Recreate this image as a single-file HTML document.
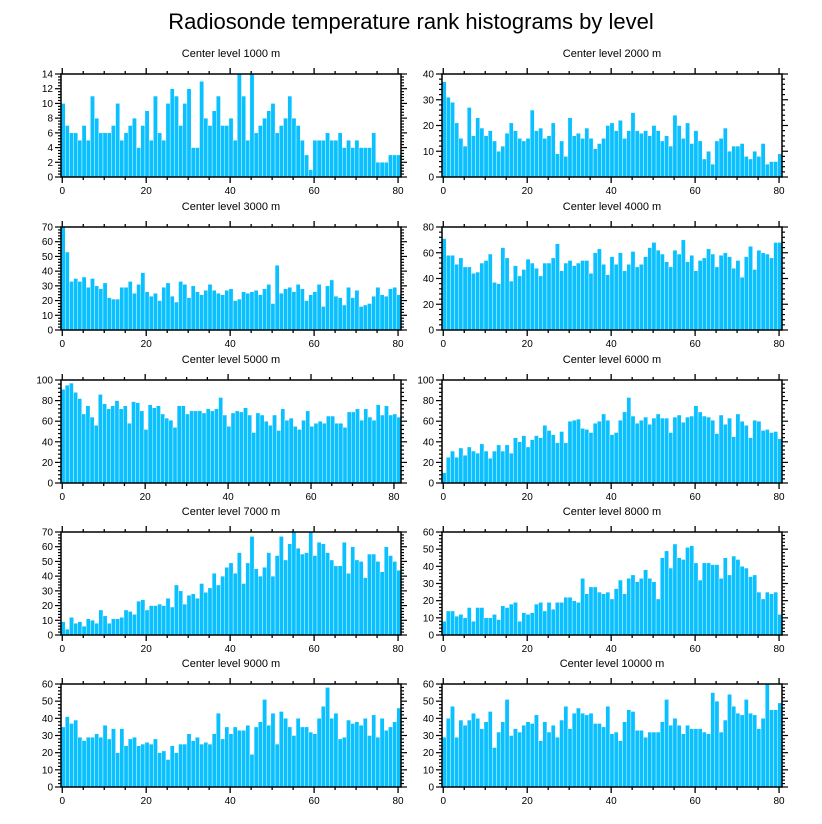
<!DOCTYPE html>
<html><head><meta charset="utf-8"><style>
html,body{margin:0;padding:0;background:#fff;}
svg{display:block;font-family:"Liberation Sans",sans-serif;}
</style></head><body>
<svg id="chart" width="822" height="824" viewBox="0 0 822 824" xmlns="http://www.w3.org/2000/svg">
<text x="411" y="29" text-anchor="middle" font-size="22">Radiosonde temperature rank histograms by level</text>
</svg>
<script>
const levels = ["1000","2000","3000","4000","5000","6000","7000","8000","9000","10000"];
const yMaxes = [14,40,70,80,100,100,70,60,60,60];
const yMajorSteps = [2,10,10,20,20,20,10,10,10,10];
const xTicks = [0,20,40,60,80];
const v1000 = [10,7,6,6,5,7,5,11,8,6,6,6,7,10,5,6,7,8,4,7,9,5,11,6,5,10,12,11,7,10,12,4,4,13,8,7,9,11,7,7,8,5,14,11,5,14,6,7,8,9,10,6,7,8,11,8,7,5,3,1,5,5,5,6,5,5,6,4,5,4,5,4,4,4,6,2,2,2,3,3,3];
const v2000 = [37,31,29,21,15,12,27,16,23,19,16,18,14,10,12,17,21,18,15,14,15,26,18,19,15,16,21,9,14,8,23,16,17,15,19,15,11,13,15,20,21,18,22,15,18,25,18,17,18,16,20,18,14,16,12,24,20,15,21,13,18,14,7,10,5,14,15,19,10,12,12,13,8,7,10,8,13,5,6,6,9];
const v3000 = [70,53,33,35,33,36,29,35,30,28,32,22,21,21,29,29,33,25,31,39,26,23,25,20,29,32,23,19,33,31,22,30,26,24,27,31,27,25,24,27,28,20,21,26,25,26,27,24,28,31,18,44,25,28,29,26,31,28,20,24,26,31,16,30,34,23,22,17,29,22,27,16,17,18,23,29,24,23,28,29,24];
const v4000 = [71,58,58,51,56,49,49,44,45,52,54,59,37,36,64,56,38,50,42,47,55,52,48,42,52,52,56,67,46,52,54,50,52,54,54,44,60,63,51,43,57,51,60,46,51,61,49,51,57,64,68,62,59,53,49,62,59,70,53,58,46,54,56,63,59,49,58,60,57,48,54,41,57,65,47,62,60,59,56,68,68];
const v5000 = [91,95,97,88,82,67,75,64,56,86,77,72,75,80,72,75,58,79,78,70,52,76,73,75,67,63,61,54,75,75,67,70,70,70,68,72,70,72,83,66,55,68,70,69,73,66,49,68,66,60,56,66,51,72,61,63,55,52,61,70,55,58,60,58,65,65,58,58,54,69,69,72,61,72,64,61,76,66,75,66,67,64];
const v6000 = [10,25,31,25,34,27,35,31,29,38,31,24,31,37,31,37,29,44,40,46,35,42,46,44,56,51,47,39,50,39,60,61,62,53,52,49,58,60,67,61,47,49,61,69,83,65,58,61,64,57,63,67,63,63,49,64,66,59,64,65,75,69,65,64,61,48,66,57,63,45,67,60,56,44,61,60,51,52,49,50,43];
const v7000 = [9,4,12,8,9,6,11,10,8,17,13,8,11,11,12,17,16,14,23,24,17,20,20,21,20,25,19,34,30,21,27,28,25,35,29,32,42,34,40,46,49,42,56,35,49,67,45,40,46,56,40,54,67,51,62,70,59,55,56,70,54,63,62,56,51,47,47,63,42,60,51,50,39,55,55,50,43,60,54,50,44];
const v8000 = [8,14,14,11,12,10,16,8,16,16,10,10,12,9,17,16,18,19,8,13,12,13,18,19,14,19,15,19,19,22,22,20,19,33,24,28,28,25,24,25,21,27,32,24,33,35,31,33,38,33,31,21,45,49,39,53,45,44,51,52,42,32,42,42,41,41,33,45,35,46,44,40,39,34,35,25,21,25,24,25,12];
const v9000 = [35,41,37,39,29,27,29,29,31,29,36,28,34,20,34,24,28,29,24,25,26,25,28,20,21,16,24,20,25,25,31,27,29,25,26,25,31,43,28,35,31,35,33,33,36,19,35,38,51,36,43,25,44,40,35,30,40,35,35,32,31,40,47,58,40,43,28,29,39,37,38,36,40,30,42,29,40,33,35,38,46];
const v10000 = [29,40,47,29,39,36,39,43,40,34,38,44,23,32,38,51,30,34,32,36,38,37,42,27,38,32,36,29,39,47,34,43,46,43,42,43,37,37,35,47,31,32,27,38,45,44,33,33,29,32,32,32,38,51,36,40,36,31,36,34,34,34,32,31,55,50,32,39,54,47,43,42,51,43,42,34,40,60,45,45,49];
const series = [v1000,v2000,v3000,v4000,v5000,v6000,v7000,v8000,v9000,v10000];

const NS = "http://www.w3.org/2000/svg";
const svg = document.getElementById("chart");
function mk(tag, attrs, parent){const e=document.createElementNS(NS,tag);for(const k in attrs)e.setAttribute(k,attrs[k]);(parent||svg).appendChild(e);return e;}

const colX = [61, 442];
const rowY = [74, 227, 380, 532, 684];
const W = 340, H = 103;

series.forEach((vals, p) => {
  const L = colX[p % 2], T = rowY[Math.floor(p / 2)];
  const xMin = -0.3, xMax = vals.length - 0.3;
  const g = mk("g", {});
  
  
  const xs = v => L + (v - xMin) / (xMax - xMin) * W;
  const ys = v => T + H - v / yMaxes[p] * H;
  const t = mk("text", {x: L + W / 2, y: T - 17, "text-anchor": "middle", "font-size": "11"}, g);
  t.textContent = "Center level " + levels[p] + " m";
  
  
  vals.forEach((v, i) => {
    const x0 = xs(i - 0.3), x1 = xs(i + 0.7);
    const r = mk("rect", {x: x0, y: ys(v), width: x1 - x0, height: ys(0) - ys(v), fill: "#0AC0FF", stroke: "#ffffff", "stroke-width": "0.4"}, g);
    
    
  });
  for (let v = 0; v <= 80; v += 5) {
    const x = xs(v), len = v % 20 === 0 ? 6 : 3;
    mk("line", {x1: x, x2: x, y1: T + H, y2: T + H + len, stroke: "#000", "stroke-width": "1.3"}, g);
    mk("line", {x1: x, x2: x, y1: T, y2: T - len, stroke: "#000", "stroke-width": "1.3"}, g);
  }
  xTicks.forEach(v => {
    const tl = mk("text", {x: xs(v), y: T + H + 17, "text-anchor": "middle", "font-size": "10"}, g);
    tl.textContent = v;
    
    
  });
  const step = yMajorSteps[p], minor = step / 5;
  for (let k = 0; k * minor <= yMaxes[p] + 1e-9; k++) {
    const v = k * minor, y = ys(v), major = k % 5 === 0, len = major ? 6 : 3;
    mk("line", {x1: L, x2: L - len, y1: y, y2: y, stroke: "#000", "stroke-width": "1.2"}, g);
    mk("line", {x1: L + W, x2: L + W + len, y1: y, y2: y, stroke: "#000", "stroke-width": "1.2"}, g);
    if (major) {
      const yl = mk("text", {x: L - 8, y: y + 3.5, "text-anchor": "end", "font-size": "10"}, g);
      yl.textContent = Math.round(v);
      
      
    }
  }
  const f = mk("rect", {x: L, y: T, width: W, height: H, fill: "none", stroke: "#000", "stroke-width": "1.5"}, g);
  
  
});
</script>
</body></html>
